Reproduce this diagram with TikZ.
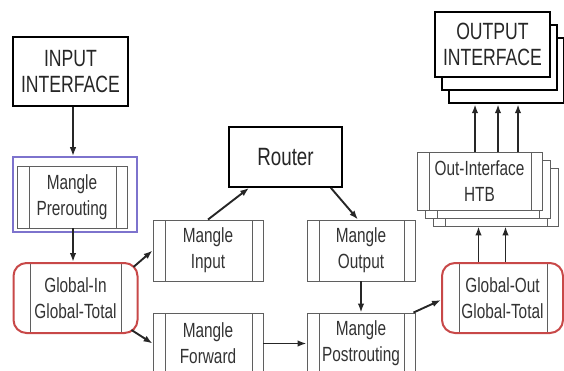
\documentclass[tikz,border=0pt]{standalone}
\usepackage{fontspec}
\newfontfamily\nfont[FakeStretch=0.75]{Liberation Sans}
\usetikzlibrary{arrows.meta}
\definecolor{rotline}{RGB}{200,72,72}
\definecolor{lila}{RGB}{125,115,205}
\definecolor{grline}{RGB}{95,95,95}
\tikzset{
	mproc/.style={draw=grline, line width=0.9pt, fill=white, align=center,
		minimum width=110pt, minimum height=61pt, text=black!80,
		font=\nfont\fontsize{20.5}{26}\selectfont,
		path picture={\draw[grline, line width=0.9pt]
			([xshift=12pt]path picture bounding box.south west) -- ([xshift=12pt]path picture bounding box.north west)
			([xshift=-11pt]path picture bounding box.south east) -- ([xshift=-11pt]path picture bounding box.north east);}},
	gbox/.style={mproc, draw=rotline, line width=2pt, rounded corners=13pt,
		minimum width=124pt, minimum height=70pt,
		path picture={\draw[grline, line width=0.8pt]
			([xshift=17pt]path picture bounding box.south west) -- ([xshift=17pt]path picture bounding box.north west)
			([xshift=-16pt]path picture bounding box.south east) -- ([xshift=-16pt]path picture bounding box.north east);}},
	bigbox/.style={draw, line width=2.5pt, fill=white, align=center, text=black!85,
		font=\nfont\fontsize{23.5}{26}\selectfont},
	arr/.style={-{Latex[length=9pt,width=6.5pt]}, line width=1.9pt, black!85},
}
\begin{document}
\begin{tikzpicture}[x=1pt,y=-1pt]
	\clip (0,0) rectangle (564,371);
	% Входная часть
	\node[bigbox, minimum width=115pt, minimum height=69pt] (inif) at (70.5,71.5) {INPUT\\INTERFACE};
	\node[draw=lila, line width=1.5pt, minimum width=124pt, minimum height=75pt] (prebox) at (75,194.5) {};
	\node[mproc, minimum height=62pt] (pre) at (72,197) {Mangle\\Prerouting};
	\node[gbox] (gin) at (75.5,298) {Global-In\\Global-Total};
	% Средняя часть
	\node[mproc] (min) at (208,250.5) {Mangle\\Input};
	\node[mproc] (mfw) at (208,343.5) {Mangle\\Forward};
	\node[draw, line width=1.8pt, fill=white, minimum width=113pt, minimum height=60pt,
		font=\nfont\fontsize{25}{27}\selectfont, text=black!85] (router) at (285.5,157) {Router};
	\node[mproc, minimum width=108pt] (mout) at (361,250.5) {Mangle\\Output};
	\node[mproc, minimum width=108pt] (mpost) at (361,343.5) {Mangle\\Postrouting};
	% Выходная часть
	\node[gbox, minimum width=121pt] (gout) at (502.5,298) {Global-Out\\Global-Total};
	\node[mproc, minimum width=125pt, minimum height=58pt] (htbc) at (495.5,197) {};
	\node[mproc, minimum width=125pt, minimum height=58pt] (htbb) at (487.5,189) {};
	\node[mproc, minimum width=125pt, minimum height=58pt] (htb) at (479.5,181) {Out-Interface\\HTB};
	\node[bigbox, minimum width=115pt, minimum height=65pt] (outifc) at (506.5,70.5) {};
	\node[bigbox, minimum width=115pt, minimum height=65pt] (outifb) at (499.5,57.5) {};
	\node[bigbox, minimum width=115pt, minimum height=65pt] (outif) at (492.5,44.5) {OUTPUT\\INTERFACE};
	% Стрелки
	\draw[arr] ([xshift=2.5pt]inif.south) -- ([xshift=2.5pt]inif.south |- prebox.north);
	\draw[arr] ([xshift=1pt]pre.south) -- ([xshift=1pt]pre.south |- gin.north);
	\draw[arr] ([shift={(-5pt,-5pt)}]gin.north east) -- (min.west);
	\draw[arr] ([shift={(-7pt,4pt)}]gin.south east) -- (mfw.west);
	\draw[arr] (min.north) -- ([xshift=21pt]router.south west);
	\draw[arr] ([xshift=-12pt]router.south east) -- ([xshift=-3pt]mout.north);
	\draw[arr] (mout.south) -- (mpost.north);
	\draw[arr] (mfw.east) -- (mpost.west);
	\draw[arr] ([xshift=-2pt]mpost.north east) -- ([yshift=-2pt]gout.west);
	\foreach \dx in {-24,3}
		\draw[arr] ([xshift=\dx pt]gout.north) -- ([xshift=\dx pt]gout.north |- htbc.south);
	\foreach \dx in {-4.5,18.5,38.5}
		\draw[arr] ([xshift=\dx pt]htb.north) -- ([xshift=\dx pt]htb.north |- outifc.south);
\end{tikzpicture}
\end{document}
